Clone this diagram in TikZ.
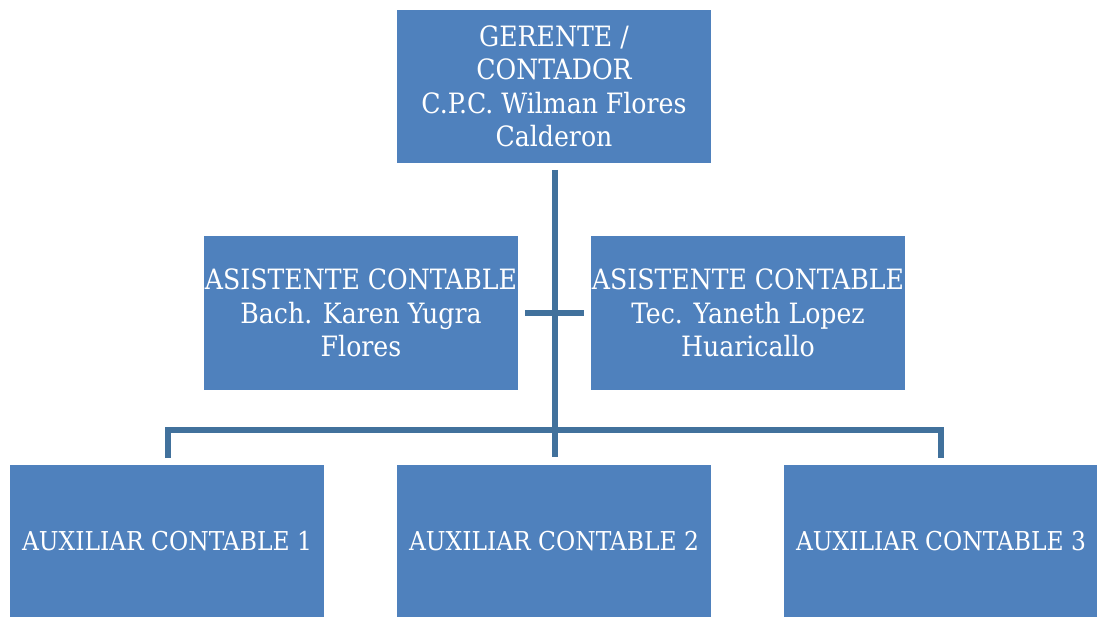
\documentclass[tikz,border=0pt]{standalone}
\usepackage{fontspec}
\setmainfont{DejaVu Serif Condensed}
\definecolor{boxblue}{HTML}{4F81BD}
\definecolor{lineblue}{HTML}{41719C}
\begin{document}
\begin{tikzpicture}[x=1pt,y=-1pt,
  orgbox/.style={fill=boxblue, draw=none, minimum width=314pt, minimum height=153pt, inner sep=0pt,
    align=center, text=white, font=\fontsize{28}{33.5}\selectfont},
  lowbox/.style={orgbox, font=\fontsize{26}{31}\selectfont},
  conn/.style={draw=lineblue, line width=5.5pt}]
\useasboundingbox (0,0) rectangle (1097,617);
\node[orgbox] (g) at (554,86.5) {GERENTE /\\CONTADOR\\C.P.C. Wilman Flores\\Calderon};
\node[orgbox] (a1) at (361,313) {ASISTENTE CONTABLE\\Bach. Karen Yugra\\Flores};
\node[orgbox] (a2) at (748,313) {ASISTENTE CONTABLE\\Tec. Yaneth Lopez\\Huaricallo};
\node[lowbox] (x1) at (167,541.5) {AUXILIAR CONTABLE 1};
\node[lowbox] (x2) at (554,541.5) {AUXILIAR CONTABLE 2};
\node[lowbox] (x3) at (941,541.5) {AUXILIAR CONTABLE 3};
\coordinate (top) at (555,170);
\coordinate (bot) at (555,457);
\coordinate (cl) at (525,313);
\coordinate (cr) at (584,313);
\coordinate (bl) at (168,430);
\coordinate (br) at (941,430);
\coordinate (bld) at (168,458);
\coordinate (brd) at (941,458);
\draw[conn] (top) -- (bot);
\draw[conn] (cl) -- (cr);
\draw[conn] (bld) -- (bl) -- (br) -- (brd);
\end{tikzpicture}
\end{document}
